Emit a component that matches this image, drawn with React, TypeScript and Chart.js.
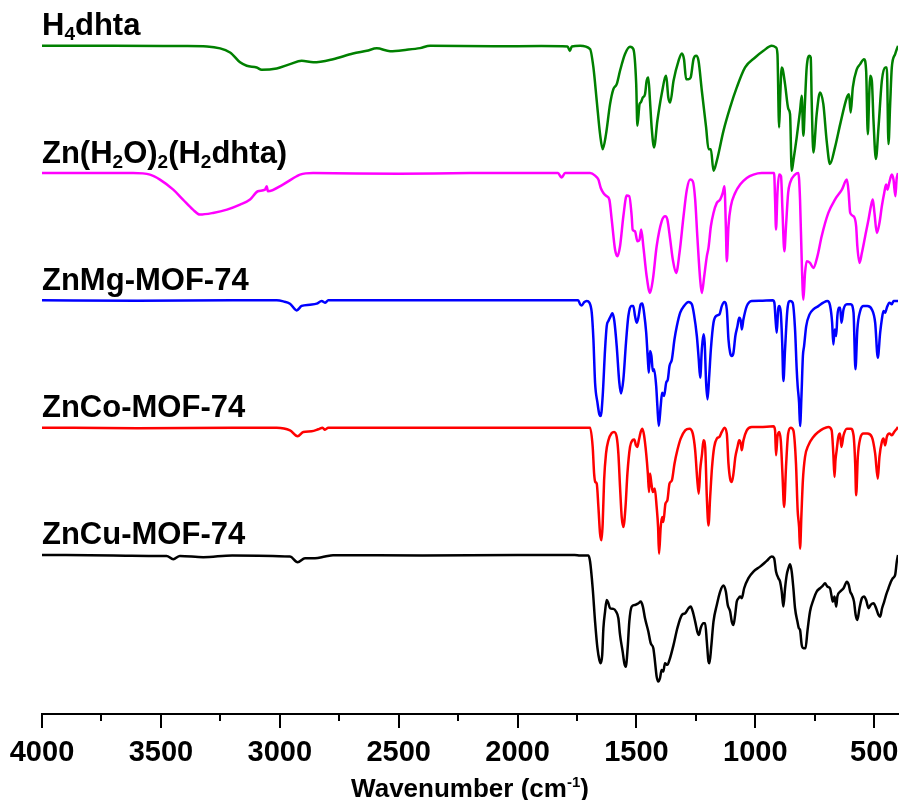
import React, { useEffect, useRef } from 'react';
import { Chart, registerables } from 'chart.js';

Chart.register(...registerables);

// ---------- axis ----------
const X_MIN = 400;
const X_MAX = 4000;
const Y_MIN = -25;
const Y_MAX = 525;
const xTickValues = [4000, 3500, 3000, 2500, 2000, 1500, 1000, 500];
const xMinorTickValues = [3750, 3250, 2750, 2250, 1750, 1250, 750];
const xAxisTitle = 'Wavenumber (cm';
const xAxisTitleSup = '-1';
const xAxisTitleEnd = ')';

// ---------- series ----------
const seriesLabels = ['H_4dhta', 'Zn(H_2O)_2(H_2dhta)', 'ZnMg-MOF-74', 'ZnCo-MOF-74', 'ZnCu-MOF-74'];
const seriesColors = ['#008000', '#ff00ff', '#0000ff', '#ff0000', '#000000'];
const seriesOffsets = [400, 300, 200, 100, 0];

const h4dhtaWavenumber = [4000, 3700, 3400, 3306, 3209, 3167, 3139, 3097, 3076, 3013, 2957, 2908, 2859, 2776, 2692, 2634, 2592, 2536, 2466, 2410, 2368, 2100, 1900, 1790, 1780, 1772, 1737, 1695, 1681, 1667, 1653, 1642, 1628, 1611, 1597, 1583, 1569, 1548, 1527, 1513, 1501, 1496, 1487, 1482, 1473, 1464, 1457, 1450, 1443, 1436, 1426, 1412, 1394, 1375, 1366, 1358, 1344, 1323, 1309, 1300, 1291, 1281, 1272, 1260, 1249, 1239, 1225, 1207, 1197, 1187, 1176, 1162, 1134, 1106, 1078, 1043, 1001, 966, 931, 913, 907, 900, 896, 889, 885, 875, 861, 854, 847, 840, 826, 812, 805, 798, 791, 784, 772, 767, 763, 756, 742, 728, 714, 700, 686, 665, 643, 615, 606, 599, 590, 573, 559, 543, 534, 527, 521, 517, 510, 503, 493, 482, 468, 454, 447, 440, 433, 426, 412, 400];
const h4dhtaTransmittance = [100, 100, 99.8, 99.5, 94.8, 87, 84.3, 83, 81.1, 82.2, 85.6, 88.2, 87, 89.5, 94, 96.1, 98, 95.8, 96.9, 98.2, 100, 99.6, 99.8, 99.5, 96, 99.5, 100, 97.4, 83, 56.8, 30.6, 18.8, 30.6, 54.2, 66, 69.9, 80.4, 93.5, 99.2, 97.4, 69.9, 37.2, 54.2, 55.5, 59.4, 62, 72.5, 75.1, 56.8, 35.9, 20.2, 41.1, 62, 76.4, 59.4, 55.5, 72.5, 88.2, 94, 89.5, 73.8, 73.8, 75.1, 89.5, 92.1, 88.2, 64.7, 35.9, 18.8, 18.8, 1.8, 9.7, 33.2, 51.6, 67.3, 83, 90.8, 96.1, 100, 98.7, 93.5, 35.9, 56.8, 83, 81.7, 69.9, 50.3, 46.3, 1.8, 9.7, 28, 48.9, 60.7, 29.3, 56.8, 83, 92.1, 90.8, 56.8, 16.2, 46.3, 63.4, 54.2, 25.4, 7.1, 20.2, 38.5, 59.4, 62, 47.6, 67.3, 81.7, 85.6, 89.5, 80.4, 30.6, 62, 76.4, 72.5, 41.1, 11, 35.9, 72.5, 83, 83, 22.8, 54.2, 83, 93.5, 100];

const znH2dhtaWavenumber = [4000, 3800, 3617, 3546, 3504, 3448, 3407, 3365, 3336, 3281, 3222, 3167, 3125, 3092, 3062, 3055, 3050, 2987, 2929, 2915, 2860, 2500, 2200, 1830, 1815, 1800, 1737, 1695, 1674, 1660, 1650, 1639, 1625, 1614, 1604, 1590, 1580, 1569, 1555, 1541, 1530, 1520, 1516, 1506, 1496, 1487, 1480, 1471, 1457, 1443, 1431, 1415, 1394, 1379, 1370, 1358, 1347, 1333, 1319, 1302, 1288, 1274, 1263, 1253, 1244, 1232, 1225, 1215, 1204, 1197, 1187, 1176, 1162, 1148, 1137, 1130, 1124, 1120, 1113, 1103, 1085, 1064, 1036, 1008, 973, 931, 921, 917, 913, 907, 900, 892, 886, 878, 871, 862, 854, 833, 819, 812, 805, 798, 791, 784, 770, 756, 739, 721, 693, 665, 636, 615, 608, 601, 587, 576, 571, 562, 552, 538, 524, 514, 506, 499, 489, 478, 468, 458, 450, 444, 437, 426, 419, 411, 406, 400];
const znH2dhtaTransmittance = [100, 100, 100, 98.8, 94.9, 87, 79.2, 71.3, 67.4, 68.7, 71.3, 75.2, 79.2, 85.7, 87, 89.6, 85.7, 91, 97.5, 98.8, 100, 99.5, 100, 100, 96.5, 100, 100, 100, 98, 94.9, 88.3, 84.4, 81.8, 79.2, 63.5, 39.9, 34.6, 42.5, 66.1, 82.3, 81.8, 66.1, 55.6, 54.3, 46.4, 47.7, 55.6, 42.5, 18.9, 5.8, 16.3, 42.5, 62.1, 66.1, 63.5, 47.7, 32, 21.5, 37.2, 66.1, 87, 94.9, 93.6, 79.2, 50.4, 16.3, 5.8, 18.9, 34.6, 41.2, 58.2, 68.7, 76.6, 79.2, 84.4, 89.7, 58.2, 30.7, 58.2, 73.9, 84.4, 91, 96.2, 98.8, 100, 100, 100, 79.2, 55.6, 84.4, 98.8, 97.5, 71.3, 38.6, 58.2, 84.4, 92.3, 98.8, 100, 79.2, 32, 0.6, 21.5, 30.7, 29.4, 25.5, 34.6, 50.4, 68.7, 79.2, 87, 94.9, 85.7, 68.7, 66.1, 58.2, 42.5, 29.4, 37.2, 50.4, 63.5, 73.9, 79.2, 68.7, 53, 60.8, 73.9, 84.4, 91, 87, 92.3, 98.8, 94.9, 81.8, 94.9, 100];

const znMgWavenumber = [4000, 3600, 3200, 3013, 2985, 2957, 2929, 2908, 2873, 2845, 2824, 2810, 2796, 2500, 2100, 1745, 1737, 1730, 1720, 1709, 1698, 1688, 1681, 1674, 1664, 1656, 1650, 1642, 1632, 1625, 1618, 1608, 1601, 1593, 1583, 1572, 1565, 1555, 1544, 1534, 1522, 1513, 1506, 1499, 1492, 1482, 1475, 1468, 1459, 1452, 1448, 1443, 1437, 1431, 1426, 1417, 1412, 1406, 1398, 1392, 1384, 1375, 1368, 1361, 1351, 1340, 1330, 1316, 1300, 1281, 1267, 1258, 1246, 1238, 1232, 1225, 1218, 1213, 1207, 1201, 1194, 1187, 1176, 1165, 1151, 1141, 1130, 1120, 1113, 1106, 1099, 1092, 1084, 1075, 1068, 1061, 1057, 1050, 1036, 1015, 980, 927, 920, 915, 910, 904, 899, 893, 887, 882, 875, 865, 854, 843, 833, 826, 822, 816, 812, 806, 800, 795, 786, 772, 756, 735, 714, 697, 686, 677, 672, 666, 660, 655, 649, 643, 638, 629, 615, 599, 587, 579, 571, 559, 545, 529, 510, 496, 485, 475, 468, 461, 454, 447, 436, 426, 419, 408, 400];
const znMgTransmittance = [100, 99.6, 100, 100, 99.2, 97.4, 92.1, 95.6, 96.6, 97.4, 99.5, 98.2, 100, 100, 100, 100, 96.9, 96, 98.5, 99.5, 98.2, 90.3, 69.4, 35.3, 19.6, 10.4, 9.1, 24.8, 61.5, 79.8, 83.8, 87.7, 89.8, 83.8, 64.1, 35.3, 26.9, 37.9, 66.7, 87.7, 95.5, 95.5, 87.7, 82.4, 86.4, 96.9, 97.6, 90.3, 74.6, 53.6, 43.2, 60.2, 56.3, 44.5, 45.8, 32.7, 17, 1.2, 17, 27.4, 24.8, 35.3, 37.9, 48.4, 53.6, 69.4, 79.8, 90.3, 95.5, 98.7, 96.9, 89, 72, 53.6, 39.2, 61.5, 73.3, 66.7, 35.3, 22.2, 40.5, 61.5, 82.4, 87.7, 89, 95.5, 98.7, 92.9, 69.4, 58.9, 56.3, 58.9, 72, 79.8, 86.4, 83.8, 77.2, 85.1, 95.5, 99.5, 99.7, 100, 98.2, 85.1, 74.6, 92.9, 95.5, 90.3, 66.7, 36.6, 61.5, 92.9, 99.5, 98.2, 77.2, 45.8, 32.7, 19.6, 1.2, 24.8, 56.3, 64.1, 79.8, 89, 92.9, 95.5, 98.2, 99.5, 96.1, 82.4, 65.4, 77.2, 72, 87.7, 94.2, 94.2, 82.4, 92.9, 96.9, 96.9, 90.3, 45.8, 77.2, 91.6, 95.5, 95.5, 92.9, 82.4, 54.9, 74.6, 85.1, 91.6, 90.3, 94.2, 98.2, 96.9, 99.5, 99.5, 99.5];

const znCoWavenumber = [4000, 3600, 3200, 3013, 2957, 2925, 2901, 2866, 2838, 2820, 2810, 2796, 2400, 2000, 1737, 1695, 1684, 1678, 1673, 1667, 1660, 1653, 1647, 1642, 1636, 1628, 1618, 1604, 1594, 1583, 1576, 1569, 1562, 1555, 1546, 1538, 1527, 1517, 1509, 1502, 1496, 1490, 1482, 1475, 1468, 1459, 1452, 1447, 1443, 1437, 1431, 1423, 1415, 1409, 1405, 1398, 1392, 1387, 1378, 1370, 1361, 1351, 1340, 1328, 1314, 1295, 1277, 1263, 1253, 1244, 1238, 1232, 1224, 1218, 1211, 1204, 1197, 1190, 1182, 1173, 1162, 1151, 1141, 1130, 1120, 1113, 1106, 1099, 1092, 1084, 1075, 1068, 1061, 1057, 1050, 1036, 1015, 980, 924, 917, 913, 907, 900, 893, 886, 879, 871, 862, 851, 840, 829, 822, 816, 812, 806, 800, 791, 777, 756, 735, 714, 693, 679, 672, 667, 663, 658, 651, 644, 638, 629, 615, 599, 587, 580, 576, 569, 559, 545, 529, 510, 496, 485, 478, 468, 461, 454, 447, 436, 426, 416, 405, 400];
const znCoTransmittance = [100, 99.6, 100, 100, 97.9, 93.2, 96.6, 97.1, 98.7, 100, 98.4, 100, 100, 100, 100, 100, 84.8, 63.9, 57.3, 56, 37.7, 16.7, 11.5, 24.6, 58.6, 79.6, 90, 95.8, 96.6, 92.7, 79.6, 53.4, 29.8, 21.9, 37.7, 63.9, 84.8, 90, 90.6, 86.1, 84.8, 90, 96.6, 99.2, 94, 79.6, 63.9, 49.4, 63.9, 56, 49.4, 52.1, 37.7, 21.9, 1, 21.9, 29.8, 25.9, 40.3, 42.9, 56, 58.6, 71.7, 82.2, 91.4, 97.9, 99.2, 95.3, 82.2, 58.6, 48.1, 66.5, 79.6, 90, 84.8, 45.5, 23.2, 45.5, 69.1, 84.8, 91.4, 92.7, 96.6, 100, 95.3, 71.7, 59.9, 57.3, 63.9, 77, 84.8, 90, 87.4, 82.2, 90, 97.9, 100.5, 100.5, 101, 97.9, 78.3, 92.7, 96.6, 90, 63.9, 37.7, 69.1, 95.3, 100, 97.9, 71.7, 35, 21.9, 4.9, 32.4, 58.6, 77, 86.1, 92.7, 96.6, 99.2, 100.5, 97.9, 79.6, 61.2, 74.3, 82.2, 92.7, 95.3, 84.8, 94, 99.2, 99.2, 94, 71.7, 46.8, 77, 91.4, 95.3, 95.3, 92.7, 79.6, 59.9, 77, 88.7, 91.4, 86.1, 92.7, 95.3, 94, 96.6, 99.2, 100.5];

const znCuWavenumber = [4000, 3700, 3500, 3476, 3448, 3420, 3322, 3200, 2957, 2925, 2894, 2852, 2810, 2776, 2400, 2000, 1760, 1737, 1702, 1695, 1684, 1674, 1664, 1656, 1650, 1644, 1639, 1632, 1625, 1618, 1611, 1597, 1586, 1576, 1569, 1558, 1551, 1545, 1537, 1530, 1520, 1506, 1492, 1482, 1473, 1464, 1450, 1440, 1429, 1422, 1415, 1408, 1401, 1394, 1387, 1380, 1370, 1361, 1344, 1328, 1309, 1295, 1281, 1272, 1263, 1253, 1244, 1237, 1230, 1218, 1211, 1204, 1197, 1193, 1186, 1176, 1162, 1148, 1134, 1124, 1116, 1106, 1099, 1092, 1085, 1078, 1071, 1064, 1057, 1047, 1029, 1008, 980, 952, 931, 921, 913, 903, 896, 889, 882, 875, 868, 861, 854, 847, 840, 833, 823, 817, 812, 805, 798, 789, 781, 770, 756, 742, 728, 716, 707, 697, 686, 679, 674, 667, 660, 655, 643, 629, 615, 607, 601, 594, 585, 578, 571, 562, 552, 543, 534, 524, 515, 503, 492, 482, 475, 467, 458, 450, 440, 430, 422, 412, 405, 400];
const znCuTransmittance = [100, 99.6, 99.2, 99.2, 96.6, 99.2, 98.2, 99.6, 98.7, 94.3, 97.4, 97.4, 98.7, 99.8, 99.6, 100, 100, 99.5, 99.5, 94.8, 73.8, 47.6, 26.7, 17.5, 14.9, 21.4, 42.4, 55.5, 64.6, 62, 58.1, 57.6, 55.5, 50.2, 37.1, 24, 14.9, 12.2, 26.7, 47.6, 59.4, 60.7, 62, 63.3, 59.4, 50.2, 39.8, 30.6, 26.7, 16.2, 4.4, 0.5, 3.1, 9.6, 8.3, 14.9, 13.6, 17.5, 29.3, 42.4, 52.8, 54.2, 58.1, 59.4, 55.5, 47.6, 39.8, 37.1, 42.4, 46.3, 46.3, 31.9, 16.2, 14.9, 26.7, 47.6, 60.7, 71.2, 75.9, 71.2, 60.7, 55.5, 47.6, 45, 52.8, 63.3, 65.9, 67.3, 65.9, 73.8, 81.7, 86.9, 90.8, 95.3, 98.7, 97.4, 86.9, 81.7, 79, 71.2, 59.4, 73.8, 84.3, 89.5, 92.7, 86.9, 73.8, 58.1, 47.6, 42.4, 41.1, 29.3, 26.7, 26.7, 39.8, 55.5, 64.6, 71.2, 73.8, 75.9, 77.7, 75.1, 73.8, 67.3, 63.3, 67.3, 59.4, 67.3, 71.2, 73.8, 79, 76.4, 71.2, 68.6, 63.3, 52.8, 48.9, 58.1, 65.9, 67.3, 64.6, 58.1, 60.7, 62, 58.1, 52.8, 51.5, 58.1, 63.3, 68.6, 73.8, 79, 81.7, 84.3, 94.8, 100];

const seriesWavenumbers = [h4dhtaWavenumber, znH2dhtaWavenumber, znMgWavenumber, znCoWavenumber, znCuWavenumber];
const seriesTransmittances = [h4dhtaTransmittance, znH2dhtaTransmittance, znMgTransmittance, znCoTransmittance, znCuTransmittance];

// ---------- styling ----------
const FONT = '"Liberation Sans", Arial, Helvetica, sans-serif';
const LABEL_SIZE = 31;
const LABEL_SUB_SIZE = 19;
const LABEL_GAP = 8.3; // data units above baseline (100 + offset)

function drawRich(ctx: CanvasRenderingContext2D, text: string, x: number, y: number) {
  let cx = x;
  for (let i = 0; i < text.length; i++) {
    let ch = text[i];
    let sub = false;
    if (ch === '_') {
      sub = true;
      i++;
      ch = text[i];
    }
    ctx.font = `bold ${sub ? LABEL_SUB_SIZE : LABEL_SIZE}px ${FONT}`;
    ctx.fillText(ch, cx, sub ? y + 5 : y);
    cx += ctx.measureText(ch).width;
  }
}

const decorPlugin = {
  id: 'decor',
  afterDraw(chart: any) {
    const ctx: CanvasRenderingContext2D = chart.ctx;
    const xs = chart.scales.x;
    const ys = chart.scales.y;
    const area = chart.chartArea;
    ctx.save();
    ctx.strokeStyle = '#000';
    ctx.lineWidth = 2;
    xMinorTickValues.forEach((v) => {
      const px = Math.round(xs.getPixelForValue(v));
      ctx.beginPath();
      ctx.moveTo(px, area.bottom);
      ctx.lineTo(px, area.bottom + 7);
      ctx.stroke();
    });
    ctx.fillStyle = '#000';
    ctx.textAlign = 'left';
    ctx.textBaseline = 'alphabetic';
    seriesLabels.forEach((lab, i) => {
      const px = xs.getPixelForValue(X_MAX);
      const py = ys.getPixelForValue(seriesOffsets[i] + 100 + LABEL_GAP);
      drawRich(ctx, lab, px, py);
    });
    const mainFont = `bold 26px ${FONT}`;
    const supFont = `bold 15px ${FONT}`;
    ctx.font = mainFont;
    const w1 = ctx.measureText(xAxisTitle).width;
    const w3 = ctx.measureText(xAxisTitleEnd).width;
    ctx.font = supFont;
    const w2 = ctx.measureText(xAxisTitleSup).width;
    const total = w1 + w2 + w3;
    const cx = (area.left + area.right) / 2;
    let x0 = cx - total / 2;
    const by = 797;
    ctx.font = mainFont;
    ctx.fillText(xAxisTitle, x0, by);
    x0 += w1;
    ctx.font = supFont;
    ctx.fillText(xAxisTitleSup, x0, by - 10);
    x0 += w2;
    ctx.font = mainFont;
    ctx.fillText(xAxisTitleEnd, x0, by);
    ctx.restore();
  },
};

export default function App() {
  const canvasRef = useRef<HTMLCanvasElement | null>(null);

  useEffect(() => {
    if (!canvasRef.current) return;
    const datasets = seriesLabels.map((lab, i) => ({
      label: lab.replace(/_/g, ''),
      data: seriesWavenumbers[i].map((wn, j) => ({ x: wn, y: seriesTransmittances[i][j] + seriesOffsets[i] })),
      borderColor: seriesColors[i],
      backgroundColor: seriesColors[i],
      borderWidth: 2.5,
      pointRadius: 0,
      cubicInterpolationMode: 'monotone',
      fill: false,
    }));
    const chart = new Chart(canvasRef.current, {
      type: 'line',
      data: { datasets },
      options: {
        animation: false,
        responsive: false,
        devicePixelRatio: 1,
        layout: { padding: { left: 42, right: 4, top: 14, bottom: 0 } },
        plugins: {
          legend: { display: false },
          tooltip: { enabled: false },
          title: { display: false },
        },
        scales: {
          x: {
            type: 'linear',
            reverse: true,
            min: X_MIN,
            max: X_MAX,
            afterBuildTicks: (scale: any) => {
              scale.ticks = xTickValues.map((v) => ({ value: v }));
            },
            afterFit: (scale: any) => {
              scale.height = 86;
              scale.paddingLeft = 0;
              scale.paddingRight = 0;
            },
            border: { display: true, color: '#000', width: 2 },
            grid: {
              drawOnChartArea: false,
              drawTicks: true,
              tickLength: 14,
              tickWidth: 2,
              tickColor: '#000',
              lineWidth: 2,
              color: '#000',
            },
            ticks: {
              autoSkip: false,
              maxRotation: 0,
              padding: 8,
              color: '#000',
              font: { family: FONT, size: 29, weight: 'bold' },
              callback: (v: any) => String(v),
            },
          },
          y: {
            type: 'linear',
            display: false,
            min: Y_MIN,
            max: Y_MAX,
          },
        },
      },
      plugins: [decorPlugin],
    } as any);
    return () => chart.destroy();
  }, []);

  return (
    <div style={{ position: 'fixed', left: 0, top: 0, width: 902, height: 800, background: '#fff' }}>
      <canvas ref={canvasRef} width={902} height={800} style={{ display: 'block' }} />
    </div>
  );
}
